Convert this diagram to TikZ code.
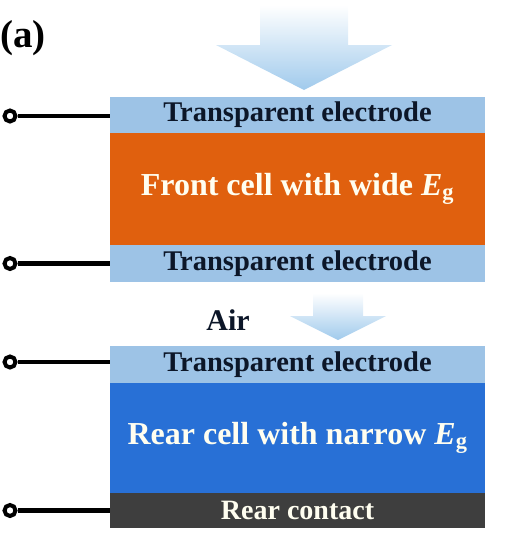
\documentclass[tikz,border=0pt]{standalone}
\usepackage{fontspec}
\setmainfont{Liberation Serif}
\newfontfamily\timesfont{Liberation Serif}
\usetikzlibrary{positioning}
\definecolor{elecblue}{RGB}{157,195,230}
\definecolor{frontorange}{RGB}{224,96,14}
\definecolor{rearblue}{RGB}{40,112,214}
\definecolor{contactgray}{RGB}{62,62,62}
\definecolor{textnavy}{RGB}{12,22,40}
\definecolor{arrowblue}{RGB}{160,202,236}
\tikzset{
  layer/.style={fill=#1, minimum width=375pt, inner sep=0pt, outer sep=0pt, align=center},
  elec/.style={layer=elecblue, minimum height=36pt, text=textnavy,
    font=\timesfont\bfseries\fontsize{28.5}{30}\selectfont},
  cell/.style={layer=#1, text=white!94!yellow, font=\timesfont\bfseries\fontsize{32}{34}\selectfont},
  term/.style={circle, draw, line width=4pt, fill=white, minimum size=11pt, inner sep=0pt},
  wire/.style={line width=4.8pt},
  lightarrow/.style={top color=white, middle color=arrowblue!85, bottom color=arrowblue},
}
\newcommand{\Eg}{{\itshape E}\textsubscript{g}}

\begin{document}
\begin{tikzpicture}[x=1pt, y=-1pt, font=\timesfont]
\useasboundingbox (0,0) rectangle (519,533);

% ── light ───────────────────────────────────────────────────
\node[font=\timesfont\bfseries\fontsize{39}{42}\selectfont] (lab) at (23,38) {(a)};
\shade[lightarrow] (260,5) -- (348,5) -- (348,45) -- (392,45) -- (304,90)
  -- (216,45) -- (260,45) -- cycle;

% ── front cell ──────────────────────────────────────────────
\node[elec] (te1) at (297.5,115) {Transparent electrode};
\node[cell=frontorange, minimum height=112pt, below=0pt of te1] (front) {Front cell with wide \Eg};
\node[elec, minimum height=37pt, below=0pt of front] (te2) {Transparent electrode};

% ── air gap ─────────────────────────────────────────────────
\node[font=\timesfont\bfseries\fontsize{30}{32}\selectfont, text=textnavy] (air) at (228,320) {Air};
\shade[lightarrow] (313,293) -- (363,293) -- (363,316) -- (386,316) -- (338,340)
  -- (290,316) -- (313,316) -- cycle;

% ── rear cell ───────────────────────────────────────────────
\node[elec, minimum height=37pt] (te3) at (297.5,364.5) {Transparent electrode};
\node[cell=rearblue, minimum height=110pt, below=0pt of te3] (rear) {Rear cell with narrow \Eg};
\node[cell=contactgray, minimum height=35pt, below=0pt of rear,
  font=\timesfont\bfseries\fontsize{28}{30}\selectfont] (contact) {Rear contact};

% ── terminals ───────────────────────────────────────────────
\node[term] (t1) at (10,116) {};
\node[term] (t2) at (10,263.5) {};
\node[term] (t3) at (10,362) {};
\node[term] (t4) at (10,510.5) {};
\draw[wire] (t1) -- (te1.west |- t1);
\draw[wire] (t2) -- (te2.west);
\draw[wire] (t3) -- (te3.west |- t3);
\draw[wire] (t4) -- (contact.west);

\end{tikzpicture}
\end{document}
